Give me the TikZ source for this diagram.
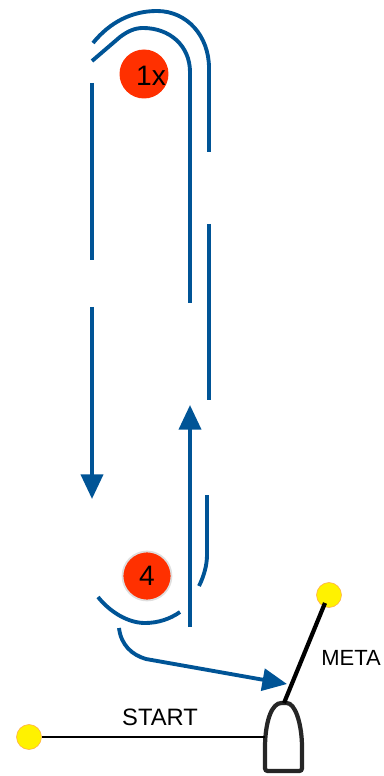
\documentclass[tikz,border=0pt]{standalone}
\usepackage{fontspec}
\setmainfont{Liberation Sans}
\usetikzlibrary{arrows.meta}

\definecolor{route}{RGB}{0,84,150}
\definecolor{mark}{RGB}{255,48,0}
\definecolor{pin}{RGB}{255,242,0}

\begin{document}
\begin{tikzpicture}[x=0.02cm,y=-0.02cm,>={Triangle[length=14pt,width=12.5pt]},
                    leg/.style={draw=route,line width=2.2pt},
                    buoy/.style={circle,fill=mark,minimum size=0.98cm,inner sep=0pt},
                    pinbuoy/.style={circle,fill=pin,draw=orange!70,line width=0.3pt,minimum size=0.5cm,inner sep=0pt},
                    buoytext/.style={font=\fontsize{16}{16}\selectfont,inner sep=0pt},
                    linetext/.style={font=\fontsize{13.5}{13.5}\selectfont,inner sep=0pt}]

  \useasboundingbox (0,0) rectangle (384,776);

  \node[buoy]                    (one)  at (144,74)  {};
  \node[buoytext]                (onet) at (151,76)  {1x};
  \node[buoy,buoytext,draw=gray!25,line width=1pt] (four) at (147,576) {4};
  \node[pinbuoy]                 (pa)   at (29,737)  {};
  \node[pinbuoy]                 (pb)   at (329,595) {};
  \node[linetext]                (st)   at (160,717) {START};
  \node[linetext,font=\fontsize{12.5}{12.5}\selectfont] (me) at (351,658) {META};

  % boat
  \coordinate (bow)  at (284,703);
  \coordinate (port) at (265,737);
  \draw[black!85,line width=2.4pt,rounded corners=1.5pt,fill=white]
        (265,771) -- (265,745) .. controls (266,720) and (272,703) .. (bow)
        .. controls (295,703) and (301,722) .. (302,745) -- (302,771) -- cycle;
  \draw[line width=1.2pt] (pa) -- (port);
  \draw[line width=2.4pt] (325,603) -- (bow);

  % legs
  \draw[leg] (93,43) .. controls (110,22) and (132,11) .. (157,11)
        .. controls (187,11) and (209,36) .. (209,68) -- (209,152);
  \draw[leg] (92,61) -- (120,37) .. controls (128,31) and (135,28) .. (143,28)
        .. controls (170,28) and (190,46) .. (190,72) -- (190,303);
  \draw[leg] (209,224) -- (209,400);
  \draw[leg] (207,495) -- (207,555) .. controls (207,565) and (204,576) .. (199,586);
  \draw[leg] (92,83) -- (92,260);
  \draw[leg,->,route] (92,307) -- (92,499);
  \draw[leg,->,route] (190,627) -- (190,405);
  \draw[leg] (98,597) .. controls (110,612) and (128,623) .. (145,623)
        .. controls (158,623) and (170,619) .. (180,612);
  \draw[leg,->,route] (119,628) .. controls (121,645) and (132,655) .. (146,659) -- (287,684);
\end{tikzpicture}
\end{document}
